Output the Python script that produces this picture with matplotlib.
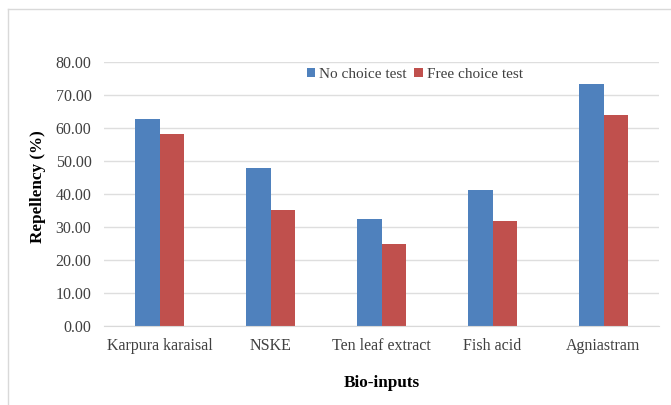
import numpy as np
import matplotlib.pyplot as plt

# --- data ---
categories = ["Karpura karaisal", "NSKE", "Ten leaf extract", "Fish acid", "Agniastram"]
no_choice = [62.6, 47.9, 32.3, 41.2, 73.2]
free_choice = [58.2, 35.2, 24.8, 31.8, 63.9]
yticks = [0, 10, 20, 30, 40, 50, 60, 70, 80]

plt.rcParams['font.family'] = ['Liberation Serif', 'DejaVu Serif']

fig = plt.figure(figsize=(6.71, 4.05), dpi=100)
# light outer frame (only left and top edges show in the picture)
fig.add_artist(plt.Line2D([8/671, 8/671], [0, 1 - 9/405], color="#d9d9d9", lw=1))
fig.add_artist(plt.Line2D([8/671, 1], [1 - 9/405, 1 - 9/405], color="#d9d9d9", lw=1))

ax = fig.add_axes([104/671, 1 - 326/405, 555/671, 264/405])
x = np.arange(len(categories))
w = 0.217
ax.bar(x - w/2, no_choice, w, color="#4f81bd", label="No choice test")
ax.bar(x + w/2, free_choice, w, color="#c0504d", label="Free choice test")

ax.set_xlim(-0.5, len(categories) - 0.5)
ax.set_ylim(0, 80)
ax.set_yticks(yticks)
ax.set_yticklabels([f"{v:.2f}" for v in yticks])
ax.set_xticks(x)
ax.set_xticklabels(categories)
ax.tick_params(axis="both", length=0, labelsize=11.5, colors="#404040")
ax.tick_params(axis="x", pad=9)
ax.tick_params(axis="y", pad=9)
ax.grid(axis="y", color="#dedede", lw=1)
ax.set_axisbelow(True)
for s in ["top", "right", "left"]:
    ax.spines[s].set_visible(False)
ax.spines["bottom"].set_color("#d9d9d9")

ax.set_ylabel("Repellency (%)", fontsize=12.3, fontweight="bold")
ax.yaxis.set_label_coords(-0.105, 0.527)
ax.set_xlabel("Bio-inputs", fontsize=12.3, fontweight="bold", labelpad=15)

ax.legend(loc="upper center", bbox_to_anchor=(0.56, 1.03), ncol=2, frameon=False,
          fontsize=11, handlelength=0.55, handleheight=0.55, handletextpad=0.25,
          columnspacing=0.5, labelcolor="#404040")

fig.savefig("out.png", dpi=100)
